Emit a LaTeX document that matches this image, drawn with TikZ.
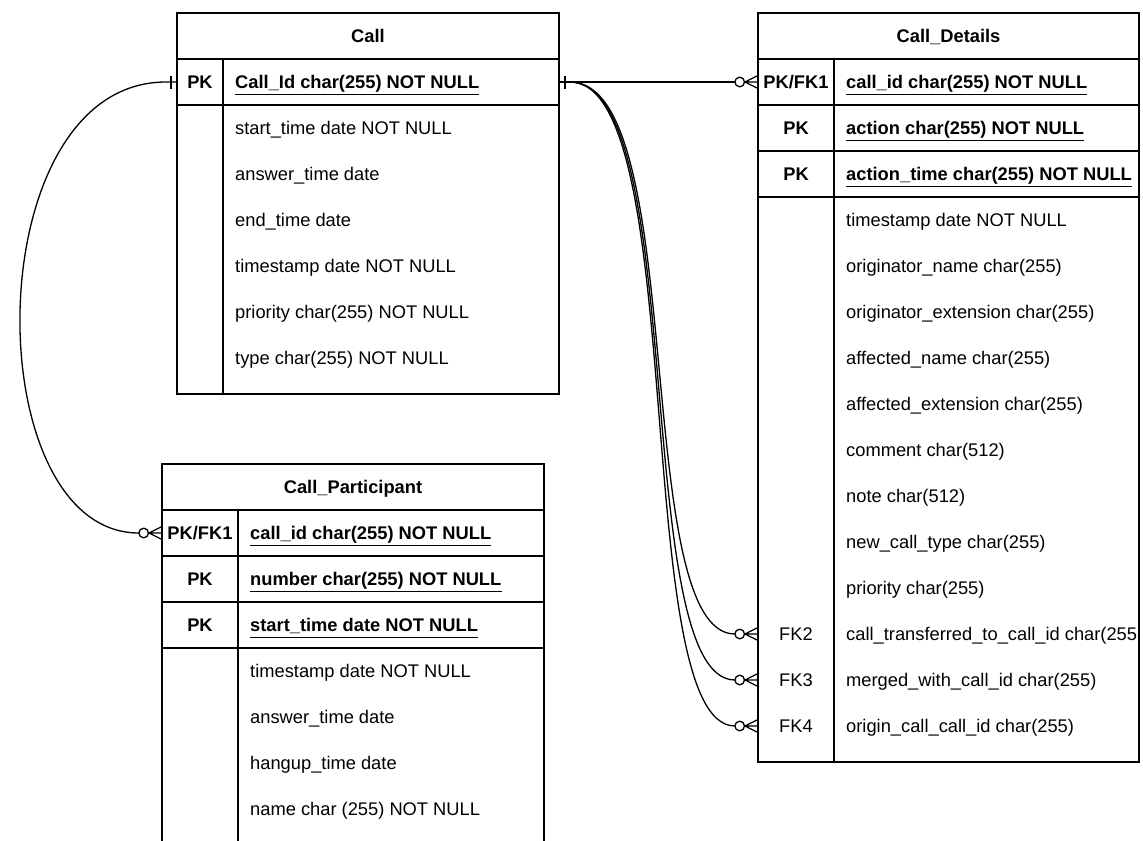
\documentclass[tikz,border=0pt]{standalone}
\usepackage{fontspec}
\setmainfont{Liberation Sans}
\newcommand\erfont{\fontsize{18.3bp}{22bp}\selectfont}
% key attribute: bold text with a rule under it
\newcommand\keyfield[4]{%
  \node[fieldtxt, font=\erfont\bfseries] (#1) at (#2,#3) {#4};
  \draw[keyrule] ([yshift=-6bp]#1.base west) -- ([yshift=-6bp]#1.base east);}
\newcommand\plainfield[4]{\node[fieldtxt] (#1) at (#2,#3) {#4};}
\begin{document}
\begin{tikzpicture}[x=1bp,y=-1bp,
  frame/.style={draw=black, line width=1.4bp, inner sep=0, outer sep=0, anchor=north west},
  rule/.style={black, line width=1.4bp},
  conn/.style={draw=black, line width=1.3bp},
  keyrule/.style={black, line width=1.3bp},
  title/.style={font=\erfont\bfseries, inner sep=0, text height=13.1bp, text depth=0pt},
  keycell/.style={font=\erfont\bfseries, inner sep=0, outer sep=0, minimum width=#1,
    minimum height=46bp, text height=13.1bp, text depth=0pt},
  fieldtxt/.style={font=\erfont, anchor=west, inner sep=0, text height=13.1bp, text depth=0pt},
  onebar/.pic={\draw[conn] (-6,-6.5) -- (-6,6.5);},
  zeromany/.pic={\draw[conn] (0,-6.5) -- (-13,0) -- (0,6.5) (-13,0) -- (0,0);
    \draw[conn] (-18.3,0) circle[radius=4.8bp];}
]
\useasboundingbox (0,0) rectangle (1143,841);
\clip (0,0) rectangle (1143,841);

% ---------- Call ----------
\node[frame, minimum width=382bp, minimum height=381bp] (call) at (177,13) {};
\draw[rule] (177,59) -- (559,59) (177,105) -- (559,105) (223,59) -- (223,394);
\node[title] (call-title) at (368,36) {Call};
\node[keycell=46bp] (call-pk) at (200,82) {PK};
\keyfield{call-id}{235}{82}{Call\_Id char(255) NOT NULL}
\plainfield{call-f1}{235}{128}{start\_time date NOT NULL}
\plainfield{call-f2}{235}{174}{answer\_time date}
\plainfield{call-f3}{235}{220}{end\_time date}
\plainfield{call-f4}{235}{266}{timestamp date NOT NULL}
\plainfield{call-f5}{235}{312}{priority char(255) NOT NULL}
\plainfield{call-f6}{235}{358}{type char(255) NOT NULL}

% ---------- Call_Details ----------
\node[frame, minimum width=381bp, minimum height=749bp] (cd) at (758,13) {};
\draw[rule] (758,59) -- (1139,59) (758,105) -- (1139,105) (758,151) -- (1139,151)
  (758,197) -- (1139,197) (834,59) -- (834,762);
\node[title] (cd-title) at (948.5,36) {Call\_Details};
\node[keycell=76bp] (cd-pk1) at (796,82) {PK/FK1};
\node[keycell=76bp] (cd-pk2) at (796,128) {PK};
\node[keycell=76bp] (cd-pk3) at (796,174) {PK};
\keyfield{cd-k1}{846}{82}{call\_id char(255) NOT NULL}
\keyfield{cd-k2}{846}{128}{action char(255) NOT NULL}
\keyfield{cd-k3}{846}{174}{action\_time char(255) NOT NULL}
\plainfield{cd-f1}{846}{220}{timestamp date NOT NULL}
\plainfield{cd-f2}{846}{266}{originator\_name char(255)}
\plainfield{cd-f3}{846}{312}{originator\_extension char(255)}
\plainfield{cd-f4}{846}{358}{affected\_name char(255)}
\plainfield{cd-f5}{846}{404}{affected\_extension char(255)}
\plainfield{cd-f6}{846}{450}{comment char(512)}
\plainfield{cd-f7}{846}{496}{note char(512)}
\plainfield{cd-f8}{846}{542}{new\_call\_type char(255)}
\plainfield{cd-f9}{846}{588}{priority char(255)}
\node[keycell=76bp, font=\erfont] (cd-fk2) at (796,634) {FK2};
\node[keycell=76bp, font=\erfont] (cd-fk3) at (796,680) {FK3};
\node[keycell=76bp, font=\erfont] (cd-fk4) at (796,726) {FK4};
\plainfield{cd-f10}{846}{634}{call\_transferred\_to\_call\_id char(255}
\plainfield{cd-f11}{846}{680}{merged\_with\_call\_id char(255)}
\plainfield{cd-f12}{846}{726}{origin\_call\_call\_id char(255)}

% ---------- Call_Participant ----------
\node[frame, minimum width=382bp, minimum height=420bp] (cp) at (162,464) {};
\draw[rule] (162,510) -- (544,510) (162,556) -- (544,556) (162,602) -- (544,602)
  (162,648) -- (544,648) (238,510) -- (238,884);
\node[title] (cp-title) at (353,487) {Call\_Participant};
\node[keycell=76bp] (cp-pk1) at (200,533) {PK/FK1};
\node[keycell=76bp] (cp-pk2) at (200,579) {PK};
\node[keycell=76bp] (cp-pk3) at (200,625) {PK};
\keyfield{cp-k1}{250}{533}{call\_id char(255) NOT NULL}
\keyfield{cp-k2}{250}{579}{number char(255) NOT NULL}
\keyfield{cp-k3}{250}{625}{start\_time date NOT NULL}
\plainfield{cp-f1}{250}{671}{timestamp date NOT NULL}
\plainfield{cp-f2}{250}{717}{answer\_time date}
\plainfield{cp-f3}{250}{763}{hangup\_time date}
\plainfield{cp-f4}{250}{809}{name char (255) NOT NULL}

% ---------- relationships ----------
\coordinate (call-pk-e) at (call-pk.west -| call.east);
% Call -> Call_Participant
\draw[conn] (call-pk.west) -- ++(-11,0)
  .. controls (-24,82) and (-24,533) .. ([xshift=-23.1bp]cp-pk1.west);
\pic at (call-pk.west) {onebar};
\pic at (cp-pk1.west) {zeromany};
% Call -> Call_Details
\draw[conn] (call-pk-e) -- ([xshift=-23.1bp]cd-pk1.west);
\pic[rotate=180] at (call-pk-e) {onebar};
\pic at (cd-pk1.west) {zeromany};
\draw[conn] (call-pk-e) -- ++(11,0)
  .. controls (690,82) and (630,634) .. ([xshift=-23.1bp]cd-fk2.west);
\draw[conn] (call-pk-e) -- ++(11,0)
  .. controls (690,82) and (630,680) .. ([xshift=-23.1bp]cd-fk3.west);
\draw[conn] (call-pk-e) -- ++(11,0)
  .. controls (690,82) and (630,726) .. ([xshift=-23.1bp]cd-fk4.west);
\pic at (cd-fk2.west) {zeromany};
\pic at (cd-fk3.west) {zeromany};
\pic at (cd-fk4.west) {zeromany};
\end{tikzpicture}
\end{document}
